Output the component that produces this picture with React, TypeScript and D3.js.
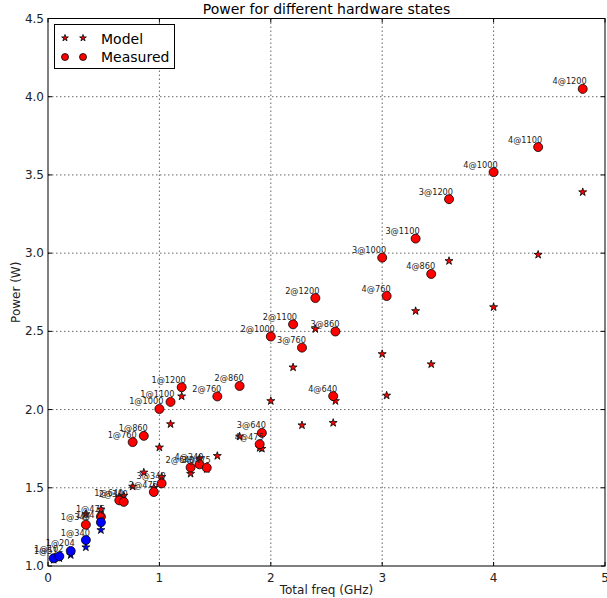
import React from 'react';
import * as d3 from 'd3';

// main run: config label "cores@MHz", total freq (GHz), measured and model power (W)
const configs = [
  '4@1200', '4@1100', '4@1000', '3@1200', '3@1100', '3@1000', '4@860', '4@760',
  '2@1200', '2@1100', '3@860', '2@1000', '3@760', '2@860', '1@1200', '2@760',
  '1@1100', '4@640', '1@1000', '1@860', '1@760', '3@640', '4@475', '4@340',
  '2@640', '3@475', '3@340', '2@475', '1@640', '2@340', '1@475', '1@340',
];
const totalFreq = [
  4.8, 4.4, 4.0, 3.6, 3.3, 3.0, 3.44, 3.04,
  2.4, 2.2, 2.58, 2.0, 2.28, 1.72, 1.2, 1.52,
  1.1, 2.56, 1.0, 0.86, 0.76, 1.92, 1.9, 1.36,
  1.28, 1.425, 1.02, 0.95, 0.64, 0.68, 0.475, 0.34,
];
const measured = [
  4.05, 3.678, 3.518, 3.345, 3.093, 2.971, 2.867, 2.726,
  2.713, 2.545, 2.499, 2.467, 2.396, 2.151, 2.143, 2.084,
  2.049, 2.086, 2.004, 1.832, 1.792, 1.851, 1.779, 1.65,
  1.63, 1.628, 1.528, 1.473, 1.42, 1.41, 1.315, 1.264,
];
const model = [
  3.39, 2.99, 2.655, 2.95, 2.63, 2.355, 2.29, 2.09,
  2.515, 2.27, 2.055, 2.055, 1.90, 1.828, 2.085, 1.704,
  1.907, 1.915, 1.758, 1.598, 1.508, 1.75, 1.755, 1.688,
  1.59, 1.62, 1.57, 1.50, 1.44, 1.45, 1.362, 1.332,
];

// low frequency run (blue)
const lowConfigs = ['1@51', '1@102', '1@204', '1@340', '1@475'];
const lowFreq = [0.051, 0.102, 0.204, 0.34, 0.475];
const lowMeasured = [1.049, 1.062, 1.096, 1.166, 1.279];
const lowModel = [1.04, 1.05, 1.07, 1.12, 1.23];

const xTickValues = [0, 1, 2, 3, 4, 5];
const yTickValues = [1.0, 1.5, 2.0, 2.5, 3.0, 3.5, 4.0, 4.5];

const font = 'DejaVu Sans, sans-serif';

export default function App() {
  const width = 607;
  const height = 598;
  const margin = { top: 18.5, right: 2, bottom: 32, left: 48 };

  const x = d3.scaleLinear().domain([0, 5]).range([margin.left, width - margin.right]);
  const y = d3.scaleLinear().domain([1, 4.5]).range([height - margin.bottom, margin.top]);

  const star = d3.symbol(d3.symbolStar, 20)() as string;
  const legendStar = d3.symbol(d3.symbolStar, 14)() as string;

  const x0 = x(0), x1 = x(5), y0 = y(1), y1 = y(4.5);

  return (
    <svg width={width} height={height} style={{ position: 'absolute', left: 0, top: 0, background: '#fff' }} fontFamily={font}>
      {/* grid */}
      {xTickValues.slice(1, -1).map(t => (
        <line key={'gx' + t} x1={x(t)} x2={x(t)} y1={y1} y2={y0} stroke="#666" strokeDasharray="1.5,2.5" />
      ))}
      {yTickValues.slice(1, -1).map(t => (
        <line key={'gy' + t} x1={x0} x2={x1} y1={y(t)} y2={y(t)} stroke="#666" strokeDasharray="1.5,2.5" />
      ))}

      {/* model stars */}
      {totalFreq.map((f, i) => (
        <path key={'m' + i} d={star} transform={`translate(${x(f)},${y(model[i])})`} fill="#ff0000" stroke="#000" strokeWidth={0.8} />
      ))}
      {lowFreq.map((f, i) => (
        <path key={'lm' + i} d={star} transform={`translate(${x(f)},${y(lowModel[i])})`} fill="#0000ff" stroke="#000" strokeWidth={0.8} />
      ))}

      {/* measured circles */}
      {totalFreq.map((f, i) => (
        <circle key={'c' + i} cx={x(f)} cy={y(measured[i])} r={4.5} fill="#ff0000" stroke="#000" strokeWidth={0.8} />
      ))}
      {lowFreq.map((f, i) => (
        <circle key={'lc' + i} cx={x(f)} cy={y(lowMeasured[i])} r={4.5} fill="#0000ff" stroke="#000" strokeWidth={0.8} />
      ))}

      {/* annotations */}
      {totalFreq.map((f, i) => (
        <text key={'t' + i} x={x(f) + 4} y={y(measured[i]) - 4.5} textAnchor="end" fontSize={8.2} fill="#222">{configs[i]}</text>
      ))}
      {lowFreq.map((f, i) => (
        <text key={'lt' + i} x={x(f) + 4} y={y(lowMeasured[i]) - 4.5} textAnchor="end" fontSize={8.2} fill="#222">{lowConfigs[i]}</text>
      ))}

      {/* frame */}
      <rect x={x0} y={y1} width={x1 - x0} height={y0 - y1} fill="none" stroke="#000" strokeWidth={1} />

      {/* ticks */}
      {xTickValues.map(t => (
        <g key={'xt' + t}>
          <line x1={x(t)} x2={x(t)} y1={y0} y2={y0 - 4} stroke="#000" />
          <line x1={x(t)} x2={x(t)} y1={y1} y2={y1 + 4} stroke="#000" />
          <text x={x(t)} y={582} textAnchor="middle" fontSize={12} fill="#222">{t}</text>
        </g>
      ))}
      {yTickValues.map(t => (
        <g key={'yt' + t}>
          <line x1={x0} x2={x0 + 4} y1={y(t)} y2={y(t)} stroke="#000" />
          <line x1={x1} x2={x1 - 4} y1={y(t)} y2={y(t)} stroke="#000" />
          <text x={x0 - 4} y={y(t) + 4} textAnchor="end" fontSize={12} fill="#222">{d3.format('.1f')(t)}</text>
        </g>
      ))}

      {/* labels */}
      <text x={(x0 + x1) / 2} y={14} textAnchor="middle" fontSize={14} fill="#000">Power for different hardware states</text>
      <text x={(x0 + x1) / 2} y={594} textAnchor="middle" fontSize={12} fill="#222">Total freq (GHz)</text>
      <text transform={`translate(20,${(y0 + y1) / 2}) rotate(-90)`} textAnchor="middle" fontSize={12} fill="#222">Power (W)</text>

      {/* legend */}
      <rect x={54.5} y={24.5} width={120} height={44} fill="#fff" stroke="#000" strokeWidth={1} />
      <path d={legendStar} transform="translate(65,38)" fill="#ff0000" stroke="#000" strokeWidth={0.8} />
      <path d={legendStar} transform="translate(83,38)" fill="#ff0000" stroke="#000" strokeWidth={0.8} />
      <text x={101} y={43.5} fontSize={14} fill="#000">Model</text>
      <circle cx={65} cy={57} r={3.5} fill="#ff0000" stroke="#000" strokeWidth={0.8} />
      <circle cx={83} cy={57} r={3.5} fill="#ff0000" stroke="#000" strokeWidth={0.8} />
      <text x={101} y={62} fontSize={14} fill="#000">Measured</text>
    </svg>
  );
}
